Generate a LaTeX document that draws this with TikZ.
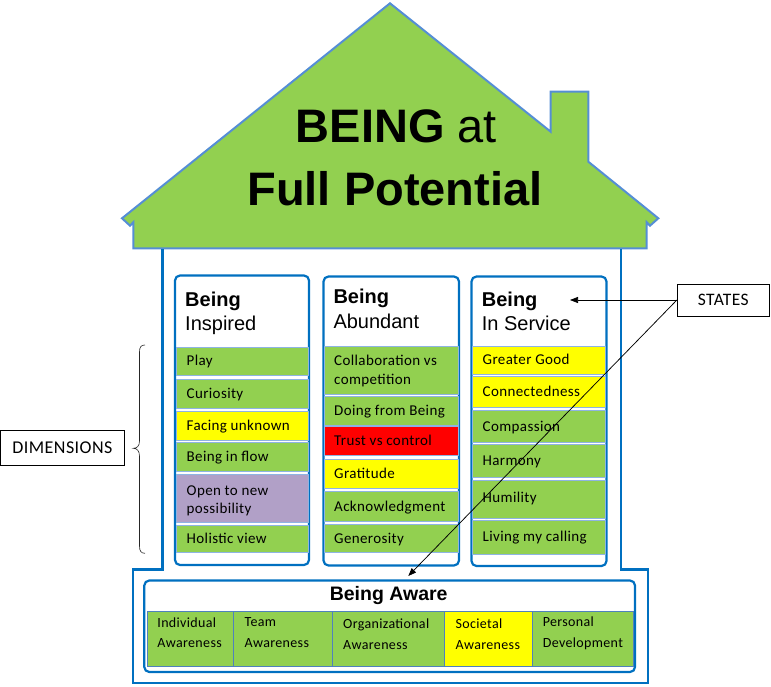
\documentclass[tikz,border=0pt]{standalone}
\usepackage{fontspec}
\setmainfont{Liberation Sans}
\newfontfamily\calfont[LetterSpace=2.5]{Carlito}
\usetikzlibrary{arrows.meta}
\definecolor{lgreen}{RGB}{146,208,80}
\definecolor{roofblue}{RGB}{85,142,213}
\definecolor{wallblue}{RGB}{0,112,192}
\definecolor{cellline}{RGB}{142,180,227}
\definecolor{purp}{RGB}{177,160,199}
\definecolor{botline}{RGB}{79,129,189}
\definecolor{yel}{RGB}{255,255,0}
\definecolor{rd}{RGB}{255,0,0}
\newcommand\mkcell[6]{\node[cell, fill=#6, minimum width={#4-#2}, minimum height={#5-#3}] (#1) at (#2,#3) {};}
\newcommand\mkbot[6]{\node[botcell, fill=#6, minimum width={#4-#2}, minimum height={#5-#3}] (#1) at (#2,#3) {};}
\begin{document}
\begin{tikzpicture}[x=1pt,y=-1pt,
  cell/.style={draw=cellline, line width=0.8pt, inner sep=0pt, outer sep=0pt, anchor=north west},
  botcell/.style={draw=botline, line width=0.8pt, inner sep=0pt, outer sep=0pt, anchor=north west},
  colbox/.style={draw=wallblue, line width=2.2pt, rounded corners=5pt, fill=white, inner sep=0pt, outer sep=0pt, anchor=north west},
  wall/.style={draw=wallblue, line width=2.2pt},
  rowtxt/.style={font=\calfont\fontsize{15}{18}\selectfont, inner sep=0pt, anchor=base west},
  bottxt/.style={font=\calfont\fontsize{14}{17}\selectfont, inner sep=0pt, anchor=base west},
  hdrb/.style={font=\bfseries\fontsize{20}{24}\selectfont, inner sep=0pt, anchor=base west},
  hdrr/.style={font=\fontsize{20}{24}\selectfont, inner sep=0pt, anchor=base west},
  lblbox/.style={draw=black, line width=0.8pt, fill=white, inner sep=0pt, font=\calfont\fontsize{18}{21}\selectfont},
  arr/.style={draw=black, line width=0.75pt, -{Triangle[length=8pt,width=6pt]}}
]
\useasboundingbox (0,0) rectangle (771,687);

% roof
\draw[fill=lgreen, draw=roofblue, line width=2pt, line join=miter]
  (390,3.3) -- (550.7,131.7) -- (550.7,91.7) -- (588.3,91.7) -- (588.3,161.7)
  -- (658.3,218.3) -- (650,225.7) -- (646.7,222.3) -- (646.7,248.3)
  -- (133.3,248.3) -- (133.3,222.3) -- (130,225.7) -- (122,218.3) -- cycle;
\node[anchor=base, inner sep=0pt, font=\fontsize{47}{56}\selectfont] (title1) at (396.5,143) {\textbf{BEING} at};
\node[anchor=base, inner sep=0pt, font=\bfseries\fontsize{47}{56}\selectfont] (title2) at (395,206) {Full Potential};

% walls
\draw[wall] (162.5,249.3) -- (162.5,569.5) -- (133.3,569.5) -- (133.3,683) -- (648.3,683) -- (648.3,569.5) -- (621,569.5) -- (621,249.3);

% columns
\node[colbox, minimum width=134, minimum height=289.5] (col1) at (175,275.5) {};
\node[colbox, minimum width=135.5, minimum height=289] (col2) at (323.5,276.5) {};
\node[colbox, minimum width=135, minimum height=289.5] (col3) at (471.5,276.5) {};

\node[hdrb] (h1a) at (185,306.7) {Being};
\node[hdrr] (h1b) at (185,330.7) {Inspired};
\node[hdrb] (h2a) at (333.3,303.3) {Being};
\node[hdrr] (h2b) at (333.3,328.3) {Abundant};
\node[hdrb] (h3a) at (481.7,306.7) {Being};
\node[hdrr] (h3b) at (481.7,330) {In Service};

% column 1 cells
\mkcell{c1a}{176}{347.3}{308.5}{375}{lgreen}
\mkcell{c1b}{176}{379.3}{308.5}{408.3}{lgreen}
\mkcell{c1c}{176}{411.7}{308.5}{440}{yel}
\mkcell{c1d}{176}{442.7}{308.5}{471.7}{lgreen}
\mkcell{c1e}{176}{474}{308.5}{522.3}{purp}
\mkcell{c1f}{176}{525}{308.5}{552.7}{lgreen}
\node[rowtxt] (t1a) at (186.5,365.9) {Play};
\node[rowtxt] (t1b) at (186.5,398.5) {Curiosity};
\node[rowtxt] (t1c) at (186.5,430.6) {Facing unknown};
\node[rowtxt] (t1d) at (186.5,461.9) {Being in flow};
\node[rowtxt] (t1e) at (186.5,495) {Open to new};
\node[rowtxt] (t1e2) at (186.5,513.3) {possibility};
\node[rowtxt] (t1f) at (186.5,543.6) {Holistic view};

% column 2 cells
\mkcell{c2a}{324.5}{346}{458}{394}{lgreen}
\mkcell{c2b}{324.5}{396.7}{458}{425}{lgreen}
\mkcell{c2c}{324.5}{426.7}{458}{455}{rd}
\mkcell{c2d}{324.5}{459.3}{458}{488.3}{yel}
\mkcell{c2e}{324.5}{491.7}{458}{521.7}{lgreen}
\mkcell{c2f}{324.5}{524}{458}{552.7}{lgreen}
\node[rowtxt] (t2a) at (334,365) {Collaboration vs};
\node[rowtxt] (t2a2) at (334,384.3) {competition};
\node[rowtxt] (t2b) at (334,415.5) {Doing from Being};
\node[rowtxt] (t2c) at (334,445.6) {Trust vs control};
\node[rowtxt] (t2d) at (334,478.5) {Gratitude};
\node[rowtxt] (t2e) at (334,511.4) {Acknowledgment};
\node[rowtxt] (t2f) at (334,543.1) {Generosity};

% column 3 cells
\mkcell{c3a}{472.5}{346}{605.5}{374}{yel}
\mkcell{c3b}{472.5}{376}{605.5}{407.3}{yel}
\mkcell{c3c}{472.5}{410}{605.5}{442.7}{lgreen}
\mkcell{c3d}{472.5}{444.3}{605.5}{477.3}{lgreen}
\mkcell{c3e}{472.5}{480}{605.5}{518.3}{lgreen}
\mkcell{c3f}{472.5}{520}{605.5}{554}{lgreen}
\node[rowtxt] (t3a) at (482.5,364.7) {Greater Good};
\node[rowtxt] (t3b) at (482.5,396.4) {Connectedness};
\node[rowtxt] (t3c) at (482.5,431.1) {Compassion};
\node[rowtxt] (t3d) at (482.5,465.5) {Harmony};
\node[rowtxt] (t3e) at (482.5,502.5) {Humility};
\node[rowtxt] (t3f) at (482.5,541) {Living my calling};

% Being Aware
\node[colbox, minimum width=490.7, minimum height=91.5] (aware) at (144.3,580.5) {};
\node[anchor=base, inner sep=0pt, font=\bfseries\fontsize{19.5}{23}\selectfont] (awt) at (388.7,600.7) {Being Aware};
\mkbot{b1}{147.7}{611.5}{233.3}{666.7}{lgreen}
\mkbot{b2}{233.3}{611.5}{332.3}{666.7}{lgreen}
\mkbot{b3}{332.3}{611.5}{444.5}{666.7}{lgreen}
\mkbot{b4}{444.5}{611.5}{532.4}{666.7}{yel}
\mkbot{b5}{532.4}{611.5}{633}{666.7}{lgreen}
\node[bottxt] (tb1) at (157.2,627.8) {Individual};
\node[bottxt] (tb1b) at (157.2,647.5) {Awareness};
\node[bottxt] (tb2) at (244.4,626.7) {Team};
\node[bottxt] (tb2b) at (244.4,647.3) {Awareness};
\node[bottxt] (tb3) at (343,628.3) {Organizational};
\node[bottxt] (tb3b) at (343,649.3) {Awareness};
\node[bottxt] (tb4) at (455.4,628.3) {Societal};
\node[bottxt] (tb4b) at (455.4,649.3) {Awareness};
\node[bottxt] (tb5) at (542.6,626.7) {Personal};
\node[bottxt] (tb5b) at (542.6,647.3) {Development};

% labels
\node[lblbox, minimum width=123.8, minimum height=35] (dims) at (62.4,447.5) {DIMENSIONS};
\node[lblbox, minimum width=92, minimum height=32, font=\calfont\fontsize{17.5}{21}\selectfont] (states) at (723.3,300) {STATES};
\coordinate (tipA) at (570,300);
\coordinate (tipB) at (408.3,576);
\draw[arr] (states.west) -- (tipA);
\draw[arr] (states.west) -- (tipB);

% brace
\draw[black!85, line width=0.6pt] (145,345) .. controls (141,345) and (139.5,347) .. (139.5,352)
  -- (139.5,441) .. controls (139.5,446) and (137,448.3) .. (133.3,448.3)
  .. controls (137,448.3) and (139.5,451) .. (139.5,456)
  -- (139.5,546) .. controls (139.5,551) and (141,553.3) .. (145,553.3);
\end{tikzpicture}
\end{document}
